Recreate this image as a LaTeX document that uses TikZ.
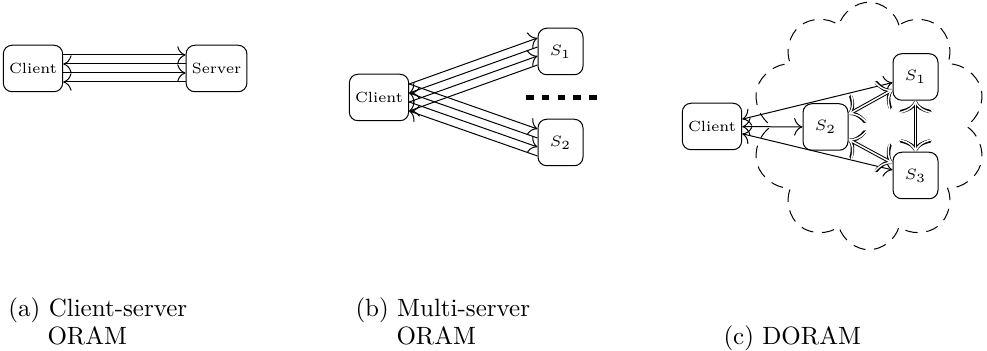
\documentclass[tikz,border=0pt]{standalone}
\usetikzlibrary{shapes.symbols,calc,arrows.meta}
\begin{document}
\begin{tikzpicture}[x=0.4pt,y=-0.4pt,
 >={Computer Modern Rightarrow[scale=1.35]},
 box/.style={draw,rounded corners=3.5pt,minimum width=18pt,minimum height=18.6pt,inner sep=2.3pt,font=\fontsize{5.9}{7}\selectfont},
 captxt/.style={anchor=base west,inner sep=0pt,font=\fontsize{10}{12}\selectfont},
 link/.style={->},
 blink/.style={<->},
 dlinko/.style={line width=1.4pt,{Computer Modern Rightarrow[length=5pt,width=13pt,line width=1.4pt]}-{Computer Modern Rightarrow[length=5pt,width=13pt,line width=1.4pt]}},
 dlinki/.style={white,line width=0.6pt,{Computer Modern Rightarrow[length=5pt,width=13pt,line width=0.6pt]}-{Computer Modern Rightarrow[length=5pt,width=13pt,line width=0.6pt]}},
 cloudline/.style={draw,dashed,dash pattern=on 5pt off 3.5pt}]
\useasboundingbox (0,0) rectangle (987,351);
% (a)
\node[box] (ca) at (33,68.5) {Client};
\node[box] (sv) at (216.5,68.5) {Server};
\draw[link] ([yshift=5.4pt]ca.east) -- ([yshift=5.4pt]sv.west);
\draw[link] ([yshift=1.8pt]sv.west) -- ([yshift=1.8pt]ca.east);
\draw[link] ([yshift=-1.8pt]ca.east) -- ([yshift=-1.8pt]sv.west);
\draw[link] ([yshift=-5.4pt]sv.west) -- ([yshift=-5.4pt]ca.east);
% (b)
\node[box] (cb) at (379,97.5) {Client};
\node[box] (s1b) at (560.5,51.5) {$S_1$};
\node[box] (s2b) at (560.5,142.5) {$S_2$};
\foreach \t in {s1b,s2b}{
\draw[link] ([yshift=5.4pt]cb.east) -- ([yshift=5.4pt]\t.west);
\draw[link] ([yshift=1.8pt]\t.west) -- ([yshift=1.8pt]cb.east);
\draw[link] ([yshift=-1.8pt]cb.east) -- ([yshift=-1.8pt]\t.west);
\draw[link] ([yshift=-5.4pt]\t.west) -- ([yshift=-5.4pt]cb.east);
}
\coordinate (dl) at (526,97.3);
\coordinate (dr) at (597,97.3);
\draw[line width=1.8pt,dash pattern=on 3pt off 3.3pt] (dl) -- (dr);
% (c)
\node[cloud,cloud puffs=10,cloudline,minimum width=94pt,minimum height=99pt,inner sep=0pt] (cl) at (869,126) {};
\node[box] (cc) at (712,126.5) {Client};
\node[box] (s2c) at (825.5,127) {$S_2$};
\node[box] (s1c) at (915.5,77) {$S_1$};
\node[box] (s3c) at (915.5,175.5) {$S_3$};
\draw[blink] (cc) -- (s1c);
\draw[blink] (cc) -- (s2c);
\draw[blink] (cc) -- (s3c);
\foreach \p/\q in {s2c/s1c,s2c/s3c,s1c/s3c}{
\draw[dlinko] (\p) -- (\q);
\draw[dlinki] (\p) -- (\q);
}
% captions
\node[captxt] (capa) at (8,316.5) {(a) Client-server};
\node[captxt] (capa2) at (47,345) {ORAM};
\node[captxt] (capb) at (355,316.5) {(b) Multi-server};
\node[captxt] (capb2) at (396,345) {ORAM};
\node[captxt] (capc) at (723,345) {(c) DORAM};
\end{tikzpicture}
\end{document}
